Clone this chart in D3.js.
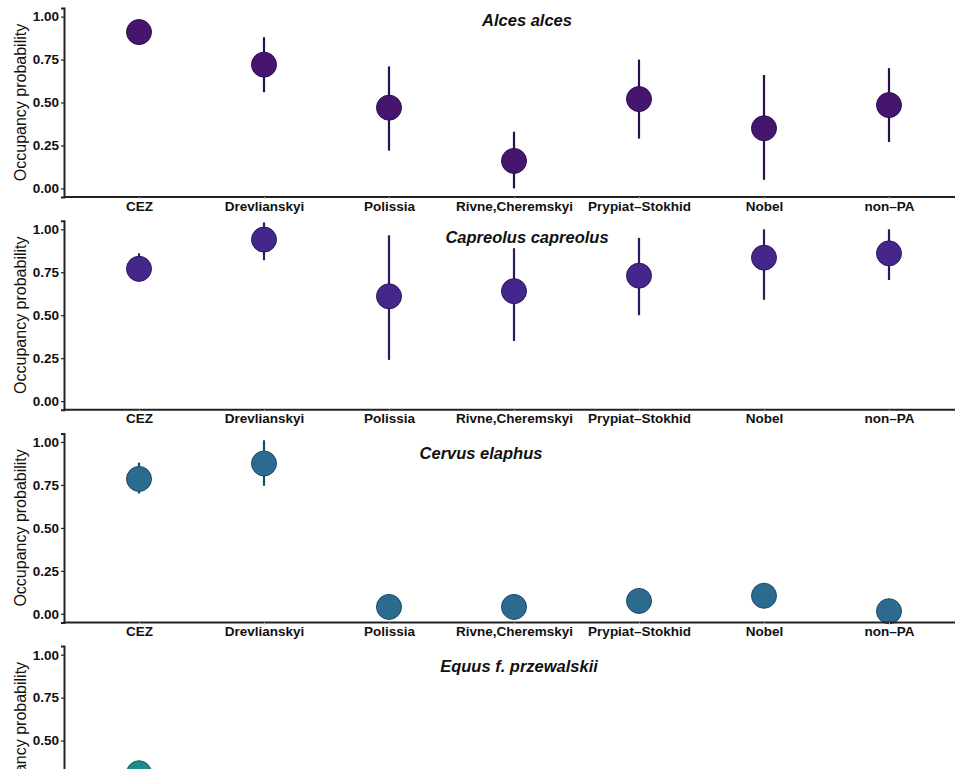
<!DOCTYPE html>
<html>
<head>
<meta charset="utf-8">
<script src="https://cdn.jsdelivr.net/npm/d3@7"></script>
<style>
  body { margin: 0; background: #fff; }
  svg { display: block; font-family: "Liberation Sans", Arial, sans-serif; }
</style>
</head>
<body>
<div id="chart"></div>
<script>
// Sites on the x axis
const sites = ["CEZ", "Drevlianskyi", "Polissia", "Rivne,Cheremskyi", "Prypiat-Stokhid", "Nobel", "non-PA"];
const species = ["Alces alces", "Capreolus capreolus", "Cervus elaphus", "Equus f. przewalskii"];
const yTicks = [0, 0.25, 0.5, 0.75, 1];

// occupancy estimate, lower and upper interval per species (same order as sites)
const alcesMean = [0.91, 0.72, 0.47, 0.16, 0.52, 0.35, 0.485];
const alcesLow  = [0.89, 0.56, 0.22, 0.00, 0.29, 0.05, 0.27];
const alcesHigh = [0.93, 0.88, 0.71, 0.33, 0.75, 0.66, 0.70];

const capreolusMean = [0.77, 0.94, 0.61, 0.64, 0.73, 0.835, 0.86];
const capreolusLow  = [0.695, 0.82, 0.24, 0.35, 0.50, 0.59, 0.705];
const capreolusHigh = [0.86, 1.04, 0.965, 0.89, 0.95, 1.00, 1.00];

const cervusMean = [0.785, 0.875, 0.04, 0.04, 0.075, 0.105, 0.015];
const cervusLow  = [0.70, 0.745, 0.01, 0.01, 0.04, 0.07, 0.00];
const cervusHigh = [0.88, 1.01, 0.07, 0.07, 0.11, 0.14, 0.04];

// only the CEZ point of the last panel is inside the picture
const equusMean = [0.31, null, null, null, null, null, null];
const equusLow  = [0.25, null, null, null, null, null, null];
const equusHigh = [0.37, null, null, null, null, null, null];

const panelColors = ["#46166f", "#45268a", "#2c6b8f", "#1f8a8a"];
const barColors = ["#2b1050", "#2c1a5e", "#1d4a66", "#17625f"];

const panels = [
  {mean: alcesMean, low: alcesLow, high: alcesHigh},
  {mean: capreolusMean, low: capreolusLow, high: capreolusHigh},
  {mean: cervusMean, low: cervusLow, high: cervusHigh},
  {mean: equusMean, low: equusLow, high: equusHigh}
];
// where each title sits (x centre, baseline from panel top) - they differ per panel
const titlePos = [[527, 18], [527, 22], [481, 26], [519, 26]];

const width = 955;
const height = 769;
const left = 64;
const panelStep = 212.7;
const plotH = 189;

const svg = d3.select("#chart").append("svg")
    .attr("width", width)
    .attr("height", height);

const x = d3.scalePoint()
    .domain(sites)
    .range([left, left + 900])
    .padding(0.6);

panels.forEach((p, i) => {
  const top = 8 + i * panelStep;
  const y = d3.scaleLinear()
      .domain([-0.05, 1.05])
      .range([top + plotH, top]);

  const g = svg.append("g");

  const rows = sites.map((s, j) => ({site: s, mean: p.mean[j], low: p.low[j], high: p.high[j]}))
      .filter(d => d.mean !== null);

  // error bars
  g.selectAll("line.err")
    .data(rows)
    .join("line")
      .attr("class", "err")
      .attr("x1", d => x(d.site))
      .attr("x2", d => x(d.site))
      .attr("y1", d => y(d.low))
      .attr("y2", d => y(d.high))
      .attr("stroke", barColors[i])
      .attr("stroke-width", 2.2);

  // points
  g.selectAll("circle")
    .data(rows)
    .join("circle")
      .attr("cx", d => x(d.site))
      .attr("cy", d => y(d.mean))
      .attr("r", 12.5)
      .attr("fill", panelColors[i])
      .attr("stroke", barColors[i])
      .attr("stroke-width", 1);

  // y axis
  const yAxis = g.append("g")
      .attr("transform", `translate(${left},0)`)
      .call(d3.axisLeft(y).tickValues(yTicks).tickFormat(d3.format(".2f")).tickSize(3).tickPadding(2));
  yAxis.select(".domain").attr("stroke", "#222").attr("stroke-width", 2);
  yAxis.selectAll(".tick line").attr("stroke", "#222").attr("stroke-width", 1.2);
  yAxis.selectAll(".tick text")
      .attr("fill", "#111")
      .style("font-size", "13.5px")
      .style("font-weight", "bold");

  // x axis
  const xAxis = g.append("g")
      .attr("transform", `translate(0,${top + plotH})`)
      .call(d3.axisBottom(x).tickSize(2).tickPadding(2).tickFormat(d => d.replace("-", "\u2013")));
  xAxis.select(".domain")
      .attr("d", `M${left},0H${left + 900}`)
      .attr("stroke", "#222").attr("stroke-width", 2);
  xAxis.selectAll(".tick line").attr("stroke", "#bbb");
  xAxis.selectAll(".tick text")
      .attr("fill", "#111")
      .style("font-size", "13.5px")
      .style("font-weight", "bold");

  // axis title
  svg.append("text")
      .attr("transform", `translate(26,${top + plotH / 2}) rotate(-90)`)
      .attr("text-anchor", "middle")
      .style("font-size", "16px")
      .attr("fill", "#111")
      .text("Occupancy probability");

  // species title
  svg.append("text")
      .attr("x", titlePos[i][0])
      .attr("y", top + titlePos[i][1])
      .attr("text-anchor", "middle")
      .style("font-size", "16.5px")
      .style("font-weight", "bold")
      .style("font-style", "italic")
      .attr("fill", "#111")
      .text(species[i]);
});
</script>
</body>
</html>
